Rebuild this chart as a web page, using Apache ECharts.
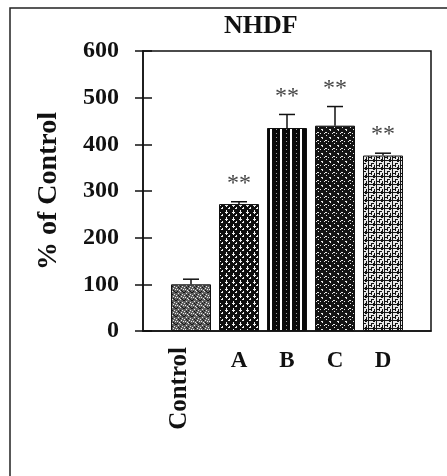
<!DOCTYPE html>
<html><head><meta charset="utf-8">
<script src="https://cdn.jsdelivr.net/npm/echarts@6/dist/echarts.min.js"></script>
<style>html,body{margin:0;padding:0;background:#fff}#c{width:447px;height:476px}</style>
</head><body><div id="c"></div>
<script>
// ---- data ----
const categories = ['', 'Control', 'A', 'B', 'C', 'D', ''];
const means = [null, 100, 272, 435, 440, 376, null];
const errors = [null, 11, 5, 29, 41, 5, null];
const marks = ['', '', '**', '**', '**', '**', ''];
const yTicks = [0, 100, 200, 300, 400, 500, 600];
const titleText = 'NHDF';
const yName = '% of Control';

// ---- styling helpers ----
function pat(w, h, draw) {
  const c = document.createElement('canvas'); c.width = w; c.height = h;
  const g = c.getContext('2d'); draw(g); return { image: c, repeat: 'repeat' };
}
const patterns = [
  null,
  pat(8, 8, g => { g.fillStyle = '#5e5e5e'; g.fillRect(0,0,8,8);
    g.fillStyle = '#e8e8e8'; [[1,1],[4,3],[2,5],[6,6],[7,1],[5,0],[0,7],[3,2]].forEach(p=>g.fillRect(p[0],p[1],1,1));
    g.fillStyle = '#151515'; [[3,0],[0,4],[5,2],[7,4],[2,7],[4,6],[1,3],[6,3]].forEach(p=>g.fillRect(p[0],p[1],1,1)); }),
  pat(7, 7, g => { g.fillStyle = '#0e0e0e'; g.fillRect(0,0,7,7);
    g.fillStyle = '#f0f0f0'; g.fillRect(2,0,1,4); g.fillRect(1,2,3,1); g.fillRect(5,4,1,2); g.fillRect(4,5,2,1); }),
  pat(10, 4, g => { g.fillStyle = '#fff'; g.fillRect(0,0,10,4);
    g.fillStyle = '#0a0a0a'; g.fillRect(2,0,8,4); g.fillStyle = '#999'; g.fillRect(6,1,1,1); }),
  pat(8, 8, g => { g.fillStyle = '#141414'; g.fillRect(0,0,8,8);
    g.fillStyle = '#eaeaea'; g.fillRect(1,1,2,1); g.fillRect(2,2,1,1); g.fillRect(5,4,2,1); g.fillRect(4,5,1,1);
    g.fillRect(6,7,1,1); g.fillRect(0,5,1,1); }),
  pat(8, 8, g => { g.fillStyle = '#e8e8e8'; g.fillRect(0,0,8,8);
    g.fillStyle = '#151515'; g.fillRect(0,0,8,1); g.fillRect(0,0,1,8); g.fillRect(3,3,1,4); g.fillRect(3,3,3,1);
    g.fillRect(6,5,1,3); g.fillRect(5,1,2,1); g.fillRect(1,5,2,1); g.fillRect(5,7,1,1); }),
  null
];

const serif = 'Liberation Serif';
const barData = means.map((v, i) => v == null ? null : { value: v, itemStyle: { color: patterns[i] } });
const errData = means.map((v, i) => v == null ? null : [i, v, errors[i], marks[i]]).filter(d => d);

const chart = echarts.init(document.getElementById('c'), null, { renderer: 'canvas' });
chart.setOption({
  animation: false,
  title: { text: titleText, left: 219, top: 8, textStyle: { fontFamily: serif, fontWeight: 'bold', fontSize: 26, color: '#111' } },
  grid: { left: 143, top: 51, width: 288, height: 280, show: true, borderColor: '#111', borderWidth: 1.5, backgroundColor: 'transparent' },
  xAxis: [
    { type: 'category', data: categories, boundaryGap: false, position: 'bottom',
      axisLine: { show: true, lineStyle: { color: '#111', width: 1.5 } }, axisTick: { show: false },
      axisLabel: { interval: 0, rotate: 90, margin: 16, fontFamily: serif, fontWeight: 'bold', fontSize: 25, color: '#111',
        verticalAlign: 'bottom', lineHeight: 22,
        formatter: v => v === 'Control' ? v : '' } },
    { type: 'category', data: categories, boundaryGap: false, position: 'bottom',
      axisLine: { show: false }, axisTick: { show: false },
      axisLabel: { interval: 0, margin: 19, fontFamily: serif, fontWeight: 'bold', fontSize: 23, color: '#111',
        formatter: v => v === 'Control' ? '' : v } }
  ],
  yAxis: [
    { type: 'value', min: yTicks[0], max: yTicks[yTicks.length - 1], interval: 100,
      name: yName, nameLocation: 'middle', nameGap: 80,
      nameTextStyle: { fontFamily: serif, fontWeight: 'bold', fontSize: 28, color: '#111' },
      axisLine: { show: true, lineStyle: { color: '#111', width: 1.5 } },
      axisTick: { show: true, length: 8, lineStyle: { color: '#111', width: 1.5 } },
      splitLine: { show: false },
      axisLabel: { margin: 24, fontFamily: serif, fontWeight: 'bold', fontSize: 24, color: '#111' } },
    { type: 'value', min: yTicks[0], max: yTicks[yTicks.length - 1], interval: 100, position: 'left',
      axisLine: { show: false }, axisTick: { show: true, inside: true, length: 9, lineStyle: { color: '#111', width: 1.5 } },
      axisLabel: { show: false }, splitLine: { show: false } }
  ],
  graphic: [
    { type: 'polyline', shape: { points: [[10, 476], [10, 8], [447, 8]] }, style: { stroke: '#222', lineWidth: 1.5, fill: null } }
  ],
  series: [
    { type: 'bar', data: barData, barWidth: 40, itemStyle: { borderColor: '#111', borderWidth: 1 } },
    { type: 'custom', data: errData, z: 5,
      renderItem: (params, api) => {
        const i = api.value(0), m = api.value(1), e = api.value(2);
        const p0 = api.coord([i, m]), p1 = api.coord([i, m + e]);
        const mark = errData[params.dataIndex][3];
        return { type: 'group', children: [
          { type: 'line', shape: { x1: p0[0], y1: p0[1], x2: p1[0], y2: p1[1] }, style: { stroke: '#111', lineWidth: 1.5 } },
          { type: 'line', shape: { x1: p1[0] - 8, y1: p1[1], x2: p1[0] + 8, y2: p1[1] }, style: { stroke: '#111', lineWidth: 1.5 } },
          { type: 'text', style: { text: mark, x: p1[0], y: p1[1] - 6, align: 'center', verticalAlign: 'bottom',
            font: '24px "Liberation Serif"', fill: '#444' } }
        ] };
      } }
  ]
});
</script></body></html>
